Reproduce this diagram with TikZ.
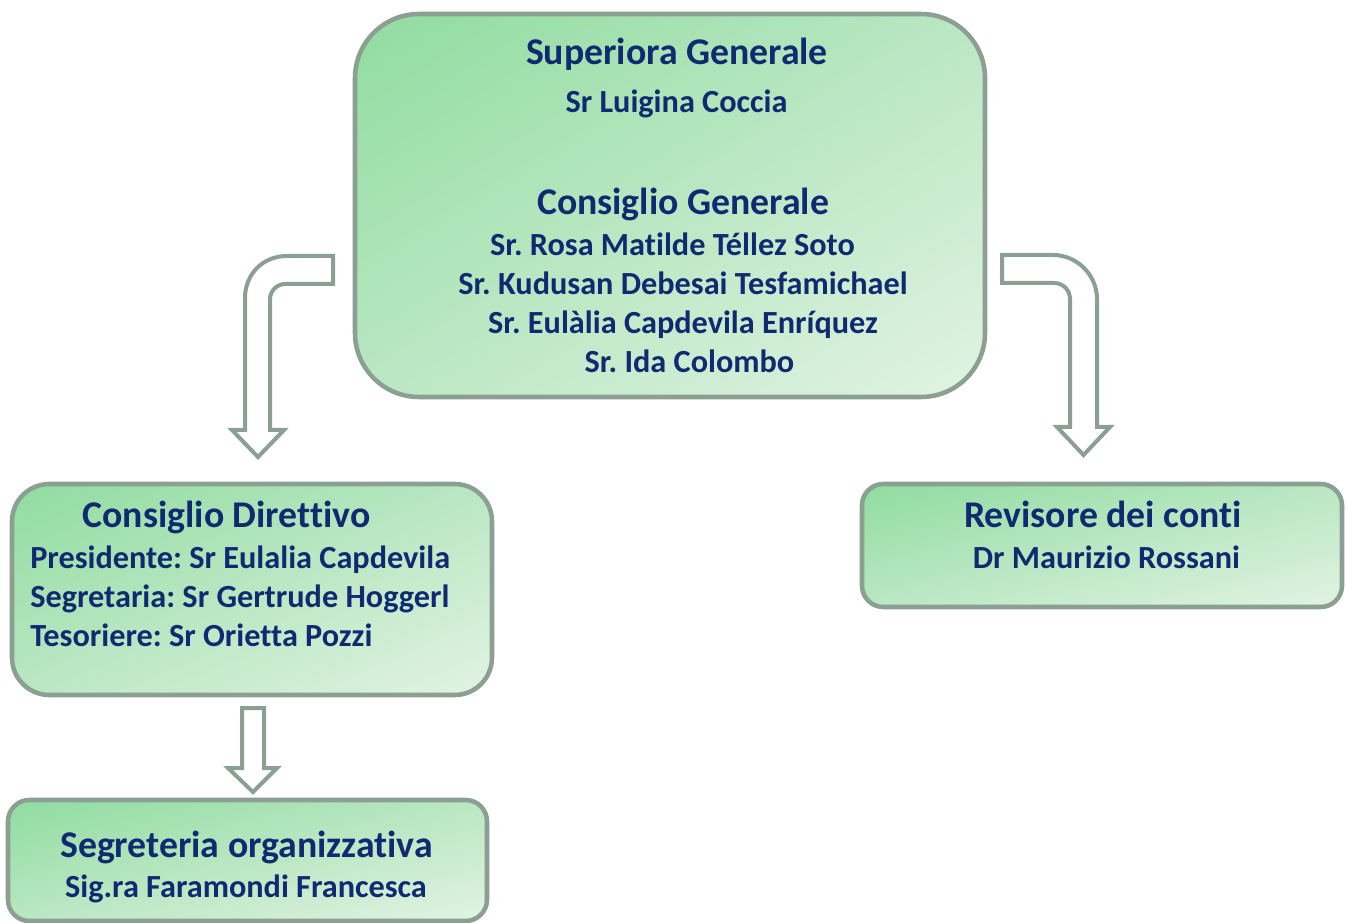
\documentclass[tikz,border=0pt]{standalone}
\usepackage{fontspec}
\setmainfont{Carlito}[Ligatures=NoCommon]
\usepackage{xcolor}
\usepackage{tikz}
\usetikzlibrary{shadings}
\frenchspacing

\definecolor{boxtop}{HTML}{90DCA0}
\definecolor{boxmid}{HTML}{BAE7C3}
\definecolor{boxbot}{HTML}{E2F3E3}
\definecolor{boxline}{HTML}{8C9F93}
\definecolor{txt}{HTML}{0F2A71}

\tikzset{
	box/.style={draw=boxline, line width=3.4pt, shading=bilinear interpolation,
		upper left=boxtop, upper right=boxmid, lower left=boxmid, lower right=boxbot},
	blockarrow/.style={draw=boxline, line width=3pt, fill=white, line join=miter},
	ttl/.style={text=txt, font=\fontsize{28.3}{33}\selectfont\bfseries, inner sep=0pt},
	nm/.style={text=txt, font=\fontsize{24.2}{29}\selectfont\bfseries, inner sep=0pt}
}

\begin{document}
\begin{tikzpicture}[x=0.75pt,y=-0.75pt]
		\useasboundingbox (0,0) rectangle (1347,923);
		%
		\node[box, rounded corners=48pt, minimum width=472.5pt, minimum height=287.25pt] (sup) at (670,205.5) {};
		\node[box, rounded corners=28pt, minimum width=360pt, minimum height=158.25pt] (dir) at (252,589.5) {};
		\node[box, rounded corners=16pt, minimum width=360pt, minimum height=92.25pt] (rev) at (1102,545.5) {};
		\node[box, rounded corners=16pt, minimum width=359.25pt, minimum height=90.75pt] (seg) at (247.5,860.5) {};
		%
		\node[ttl, anchor=mid] (supT) at (677,61) {Superiora Generale};
		\node[nm, anchor=mid] (supN) at (676.5,109) {Sr Luigina Coccia};
		\node[ttl, anchor=mid] (cgT) at (683,211) {Consiglio Generale};
		\node[nm, anchor=mid] (cg1) at (672.5,252) {Sr. Rosa Matilde Téllez Soto};
		\node[nm, anchor=mid] (cg2) at (683,291) {Sr. Kudusan Debesai Tesfamichael};
		\node[nm, anchor=mid] (cg3) at (683,330) {Sr. Eulàlia Capdevila Enríquez};
		\node[nm, anchor=mid] (cg4) at (689.5,369) {Sr. Ida Colombo};
		%
		\node[ttl, anchor=mid] (dirT) at (226.5,524) {Consiglio Direttivo};
		\node[nm, anchor=mid west] (dir1) at (30,565) {Presidente: Sr Eulalia Capdevila};
		\node[nm, anchor=mid west] (dir2) at (30,604) {Segretaria: Sr Gertrude Hoggerl};
		\node[nm, anchor=mid west] (dir3) at (30,643) {Tesoriere: Sr Orietta Pozzi};
		%
		\node[ttl, anchor=mid] (revT) at (1103,524) {Revisore dei conti};
		\node[nm, anchor=mid] (revN) at (1106.5,565) {Dr Maurizio Rossani};
		%
		\node[ttl, anchor=mid] (segT) at (246.5,854) {Segreteria organizzativa};
		\node[nm, anchor=mid] (segN) at (246,894) {Sig.ra Faramondi Francesca};
		%
		% block arrows
		\draw[blockarrow] (333,256) -- (287,256) .. controls (263,256) and (245,274) .. (245,298)
			-- (245,430) -- (232,430) -- (258,457) -- (284,430) -- (270,430) -- (270,299)
			.. controls (270,291) and (277,284) .. (285,284) -- (333,284) -- cycle;
		\draw[blockarrow] (1002,255) -- (1053,255) .. controls (1077,255) and (1097,275) .. (1097,299)
			-- (1097,427) -- (1110,427) -- (1083.5,455) -- (1057,427) -- (1070,427) -- (1070,299)
			.. controls (1070,290) and (1063,283) .. (1054,283) -- (1002,283) -- cycle;
		\draw[blockarrow] (242,708) -- (264,708) -- (264,768) -- (277,768) -- (253,792)
			-- (228,768) -- (242,768) -- cycle;
\end{tikzpicture}
\end{document}
